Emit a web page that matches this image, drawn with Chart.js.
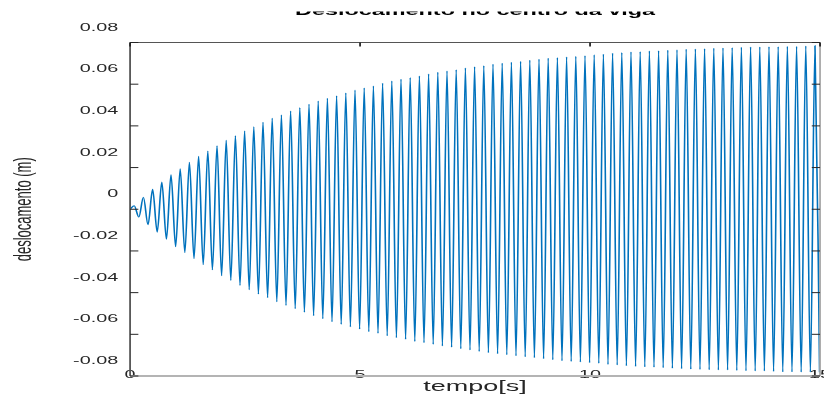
<!DOCTYPE html>
<html>
<head>
<meta charset="utf-8">
<script src="https://cdn.jsdelivr.net/npm/chart.js@4"></script>
<style>
  html, body { margin: 0; padding: 0; background: #fff; }
  #chart { display: block; }
</style>
</head>
<body>
<!-- the source figure is stretched sideways: lay out narrow, draw with a horizontal scale -->
<canvas id="chart" width="458" height="403"></canvas>
<script>
// Valeurs (m) : maxima et minima de chaque cycle
const peakValues = [
  0.0017, 0.0058, 0.0096, 0.0131, 0.0166, 0.0195, 0.0226, 0.0254, 0.0280, 0.0305,
  0.0331, 0.0353, 0.0376, 0.0396, 0.0418, 0.0437, 0.0453, 0.0472, 0.0488, 0.0504,
  0.0520, 0.0533, 0.0545, 0.0558, 0.0572, 0.0582,
  0.0592, 0.0605, 0.0616, 0.0624, 0.0632, 0.0640, 0.0649, 0.0658, 0.0664, 0.0670,
  0.0678, 0.0684, 0.0689, 0.0696, 0.0701, 0.0706, 0.0710, 0.0715, 0.0720, 0.0725,
  0.0728, 0.0731, 0.0734, 0.0737, 0.0741, 0.0744,
  0.0749, 0.0752, 0.0755, 0.0756, 0.0760, 0.0761, 0.0763, 0.0765, 0.0768, 0.0769,
  0.0771, 0.0773, 0.0774, 0.0776, 0.0778, 0.0779, 0.0779, 0.0780, 0.0780, 0.0782,
  0.0782, 0.0784, 0.0785
];
const troughValues = [
  -0.0038, -0.0075, -0.0110, -0.0144, -0.0180, -0.0208, -0.0237, -0.0266, -0.0291, -0.0319,
  -0.0341, -0.0365, -0.0386, -0.0407, -0.0424, -0.0444, -0.0461, -0.0477, -0.0494, -0.0511,
  -0.0525, -0.0540, -0.0552, -0.0564, -0.0575, -0.0587,
  -0.0595, -0.0607, -0.0616, -0.0624, -0.0634, -0.0640, -0.0648, -0.0656, -0.0662, -0.0669,
  -0.0675, -0.0682, -0.0688, -0.0693, -0.0698, -0.0703, -0.0708, -0.0712, -0.0717, -0.0722,
  -0.0727, -0.0730, -0.0733, -0.0736, -0.0739, -0.0744,
  -0.0747, -0.0751, -0.0754, -0.0756, -0.0758, -0.0760, -0.0763, -0.0765, -0.0767, -0.0768,
  -0.0770, -0.0771, -0.0771, -0.0773, -0.0775, -0.0776, -0.0776, -0.0778, -0.0780, -0.0780,
  -0.0781, -0.0781, -0.0782
];
const startPoint = { x: 0, y: 0 };
const cyclePeriod = 0.2;     // s
const firstPeakTime = 0.09;  // s
const halfPeriod = 0.1;

const xTicks = [0, 5, 10, 15];
const xTickLabels = ['0', '5', '10', '15'];
const yTicks = [-0.08, -0.06, -0.04, -0.02, 0, 0.02, 0.04, 0.06, 0.08];
const yTickLabels = ['-0.08', '-0.06', '-0.04', '-0.02', '0', '0.02', '0.04', '0.06', '0.08'];

const FONT = "'Liberation Sans', Arial, Helvetica, sans-serif";
const TXT = '#262626';
const OUT_W = 824;

// Suite des extrema : pic puis creux pour chaque cycle
const points = [startPoint];
peakValues.forEach((p, k) => {
  const t = firstPeakTime + cyclePeriod * k;
  points.push({ x: Math.round(t * 1000) / 1000, y: p });
  points.push({ x: Math.round((t + halfPeriod) * 1000) / 1000, y: troughValues[k] });
});

// Cadre style MATLAB : axes, bordure et graduations vers l'intérieur
const framePlugin = {
  id: 'frame',
  afterDatasetsDraw(chart) {
    const { ctx, chartArea: a, scales: { x, y } } = chart;
    const seg = (x1, y1, x2, y2) => { ctx.beginPath(); ctx.moveTo(x1, y1); ctx.lineTo(x2, y2); ctx.stroke(); };
    ctx.save();
    ctx.strokeStyle = '#b4b4b4';
    ctx.lineWidth = 2;
    seg(a.left, a.bottom, a.right, a.bottom);
    ctx.lineWidth = 1;
    ctx.strokeStyle = '#a8a8a8';
    seg(a.right, a.top, a.right, a.bottom);
    ctx.strokeStyle = '#555';
    seg(a.left, a.top, a.right, a.top);
    seg(a.left, a.top, a.left, a.bottom);
    ctx.strokeStyle = '#262626';
    yTicks.forEach(v => {
      const py = y.getPixelForValue(v);
      seg(a.left, py, a.left + 4.6, py);
      seg(a.right - 4.6, py, a.right, py);
    });
    xTicks.forEach(v => {
      const px = x.getPixelForValue(v);
      seg(px, a.top, px, a.top + 4);
    });
    ctx.restore();
  },
  afterDraw(chart) {
    // le titre est coupé en haut sur la figure d'origine
    chart.ctx.save();
    chart.ctx.fillStyle = '#fff';
    chart.ctx.fillRect(0, 0, chart.width, 11.5);
    chart.ctx.restore();
  }
};

const canvas = document.getElementById('chart');
const chart = new Chart(canvas, {
  type: 'line',
  data: {
    datasets: [{
      data: points,
      borderColor: '#0072BD',
      borderWidth: 0.9,
      pointRadius: 0,
      fill: false,
      clip: 0,
      cubicInterpolationMode: 'monotone'
    }]
  },
  options: {
    responsive: false,
    devicePixelRatio: 1,
    animation: false,
    layout: { padding: { left: 0, right: 2.2, top: 0, bottom: 0 } },
    plugins: {
      legend: { display: false },
      tooltip: { enabled: false },
      title: {
        display: true,
        fullSize: false,
        text: 'Deslocamento no centro da viga',
        color: '#000',
        font: { family: FONT, size: 13, weight: 'bold' },
        padding: { top: 3.7, bottom: 23.2 }
      }
    },
    scales: {
      x: {
        type: 'linear',
        min: 0,
        max: 15,
        afterBuildTicks: s => { s.ticks = xTicks.map(v => ({ value: v })); },
        afterFit: s => { s.height = 27; s.paddingLeft = 0; s.paddingRight = 0; },
        ticks: {
          autoSkip: false,
          maxRotation: 0,
          mirror: true,
          padding: -5.6,
          color: TXT,
          font: { family: FONT, size: 11 },
          callback: (v, i) => xTickLabels[i]
        },
        grid: { display: false, drawTicks: false },
        border: { display: false },
        title: {
          display: true,
          text: 'tempo[s]',
          color: TXT,
          font: { family: FONT, size: 15 },
          padding: { top: 0, bottom: 7.5 }
        }
      },
      y: {
        min: -0.08,
        max: 0.08,
        afterBuildTicks: s => { s.ticks = yTicks.map(v => ({ value: v })); },
        afterFit: s => { s.width = 72.3; s.paddingTop = 0; s.paddingBottom = 0; },
        ticks: {
          padding: 6.6,
          labelOffset: -15,
          color: TXT,
          font: { family: FONT, size: 11 },
          callback: (v, i) => yTickLabels[i]
        },
        grid: { display: false, drawTicks: false },
        border: { display: false },
        title: {
          display: true,
          text: 'deslocamento (m)',
          color: TXT,
          font: { family: FONT, size: 13 },
          padding: { top: 6.1, bottom: 0 }
        }
      }
    }
  },
  plugins: [framePlugin]
});

// étirement horizontal comme sur l'image d'origine, redessiné net
canvas.width = OUT_W;
canvas.style.width = OUT_W + 'px';
canvas.style.height = '403px';
chart.ctx.setTransform(OUT_W / 458, 0, 0, 1, 0, 0);
chart.draw();
</script>
</body>
</html>
